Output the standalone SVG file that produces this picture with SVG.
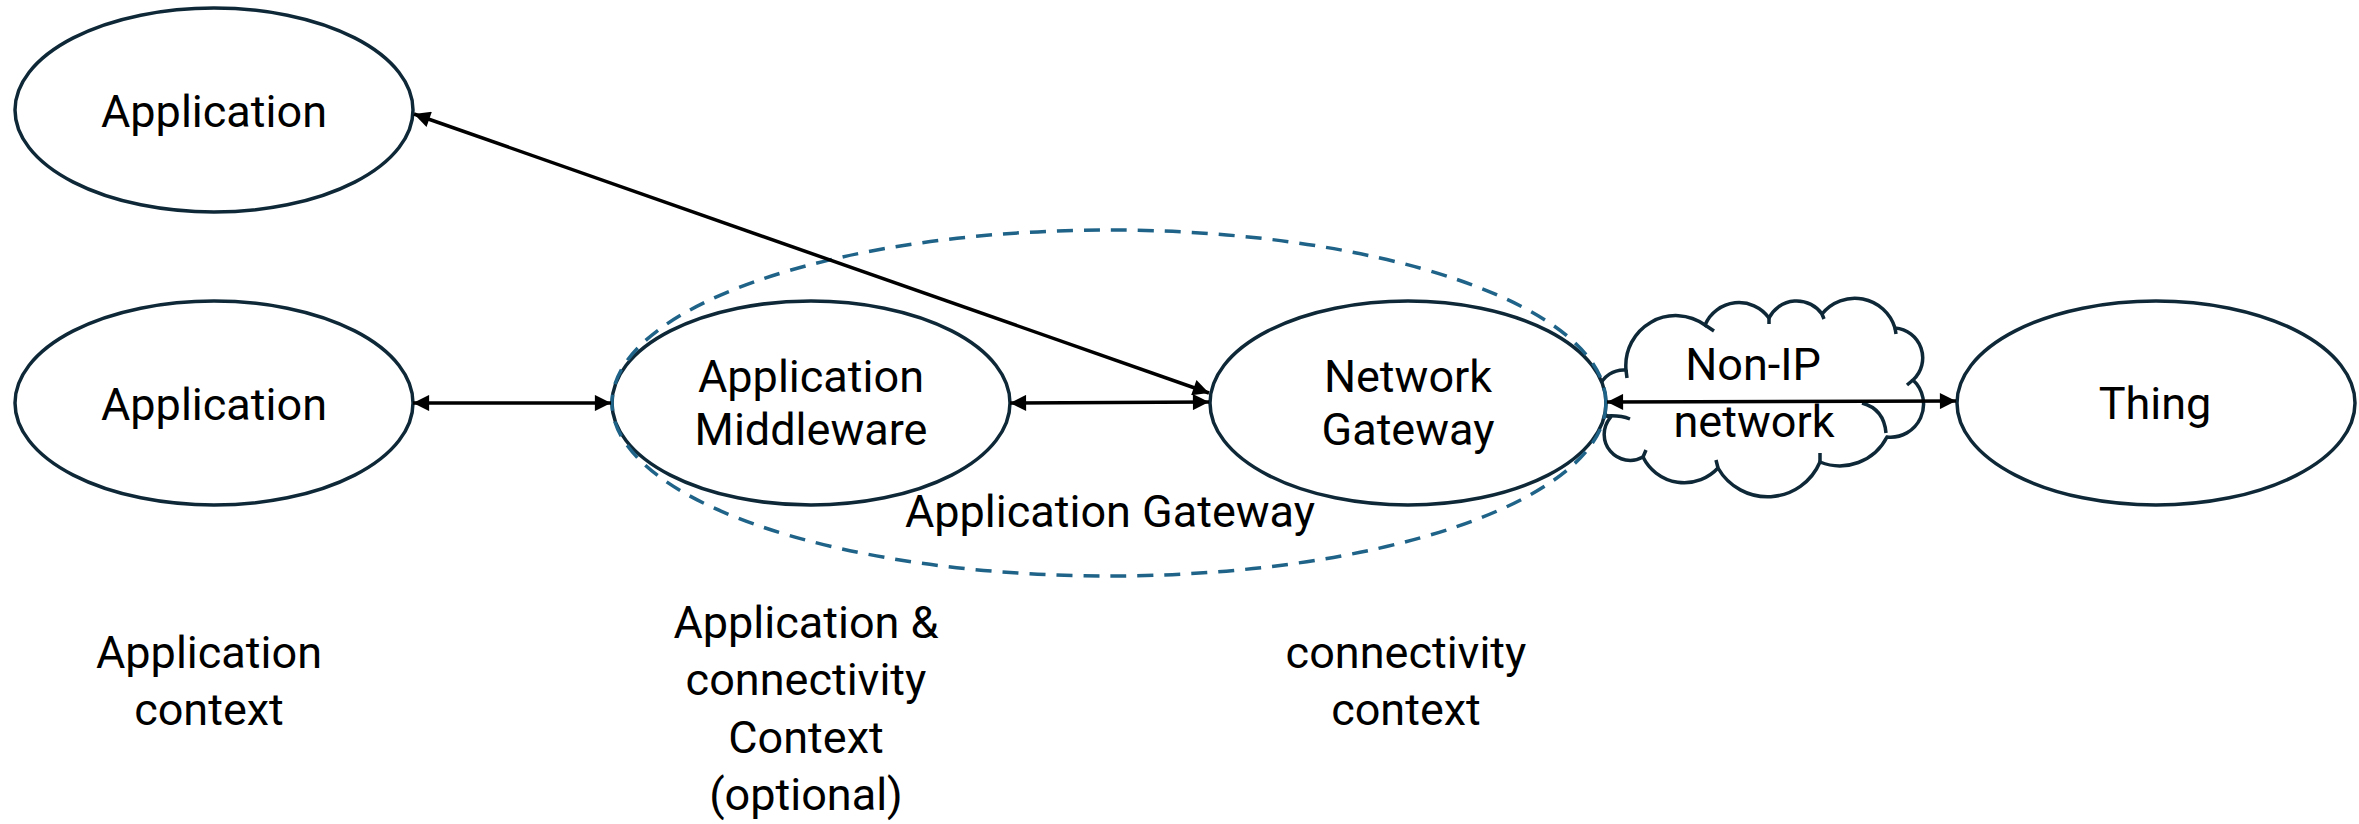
<svg xmlns="http://www.w3.org/2000/svg" width="2359" height="824" viewBox="0 0 2359 824">
<defs>
<style>
.node{fill:#ffffff;stroke:#0e2838;stroke-width:3.5}
.cloud{fill:#ffffff;stroke:#0e2838;stroke-width:3.5}
.hook{fill:none;stroke:#0e2838;stroke-width:3.5}
.group{fill:none;stroke:#1f6388;stroke-width:3.5;stroke-dasharray:16 11}
.conn{fill:none;stroke:#000000;stroke-width:3.5}
text{font-family:Roboto,"Liberation Sans",Arial,sans-serif;font-size:45px;fill:#000000;text-anchor:middle}
</style>
<marker id="ah" viewBox="0 0 10 10" refX="10" refY="5" markerWidth="4.9" markerHeight="4.6" orient="auto-start-reverse" markerUnits="strokeWidth">
<path d="M0,0 L10,5 L0,10 z" fill="#000000"/>
</marker>
</defs>
<rect width="2359" height="824" fill="#ffffff"/>

<g id="cloud-nonip">
<path class="cloud" d="M1626 370 A50 50 0 0 1 1705 325 A37 37 0 0 1 1769 318 A31 31 0 0 1 1822 314 A42 42 0 0 1 1895 328 A30 30 0 0 1 1913 380 A33 33 0 0 1 1887 437 A53 53 0 0 1 1820 462 A57 57 0 0 1 1718 468 A46 46 0 0 1 1643 457 A26 26 0 0 1 1610 418 A26 26 0 0 1 1626 370 Z"/>
<path class="hook" d="M1626 370 l1 8 M1705 325 l9 6 M1769 318 l0 6 M1822 314 l2 5 M1895 328 l1 6 M1913 380 l-6 5 M1862 403 Q1884 409 1886 433 M1820 462 l0 -9 M1718 468 l-2 -8 M1643 457 l3 -7 M1606 416 Q1620 415 1630 419"/>
<text x="1753" y="380">Non-IP</text>
<text x="1754" y="437">network</text>
</g>

<g id="app-top">
<ellipse class="node" cx="214" cy="110" rx="199" ry="102"/>
<text x="214" y="127">Application</text>
</g>

<g id="app-mid">
<ellipse class="node" cx="214" cy="403" rx="199" ry="102"/>
<text x="214" y="420">Application</text>
</g>

<g id="middleware">
<ellipse class="node" cx="811" cy="403" rx="199" ry="102"/>
<text x="811" y="392">Application</text>
<text x="811" y="445">Middleware</text>
</g>

<g id="gateway">
<ellipse class="node" cx="1408" cy="403" rx="198" ry="102"/>
<text x="1408" y="392">Network</text>
<text x="1408" y="445">Gateway</text>
</g>

<g id="thing">
<ellipse class="node" cx="2156" cy="403" rx="199" ry="102"/>
<text x="2155" y="419">Thing</text>
</g>

<g id="app-gateway">
<ellipse class="group" cx="1109" cy="403" rx="497" ry="173"/>
<text x="1110" y="527">Application Gateway</text>
</g>

<g id="connectors">
<path class="conn" d="M414 114 L1209 393" marker-start="url(#ah)" marker-end="url(#ah)"/>
<path class="conn" d="M413 403 L611 403" marker-start="url(#ah)" marker-end="url(#ah)"/>
<path class="conn" d="M1010 403 L1209 402" marker-start="url(#ah)" marker-end="url(#ah)"/>
<path class="conn" d="M1607 402 L1956 401" marker-start="url(#ah)" marker-end="url(#ah)"/>
</g>

<g id="context-labels">
<text x="209" y="668">Application</text>
<text x="209" y="725">context</text>
<text x="806" y="638">Application &amp;</text>
<text x="806" y="695">connectivity</text>
<text x="806" y="753">Context</text>
<text x="806" y="810">(optional)</text>
<text x="1406" y="668">connectivity</text>
<text x="1406" y="725">context</text>
</g>
</svg>
